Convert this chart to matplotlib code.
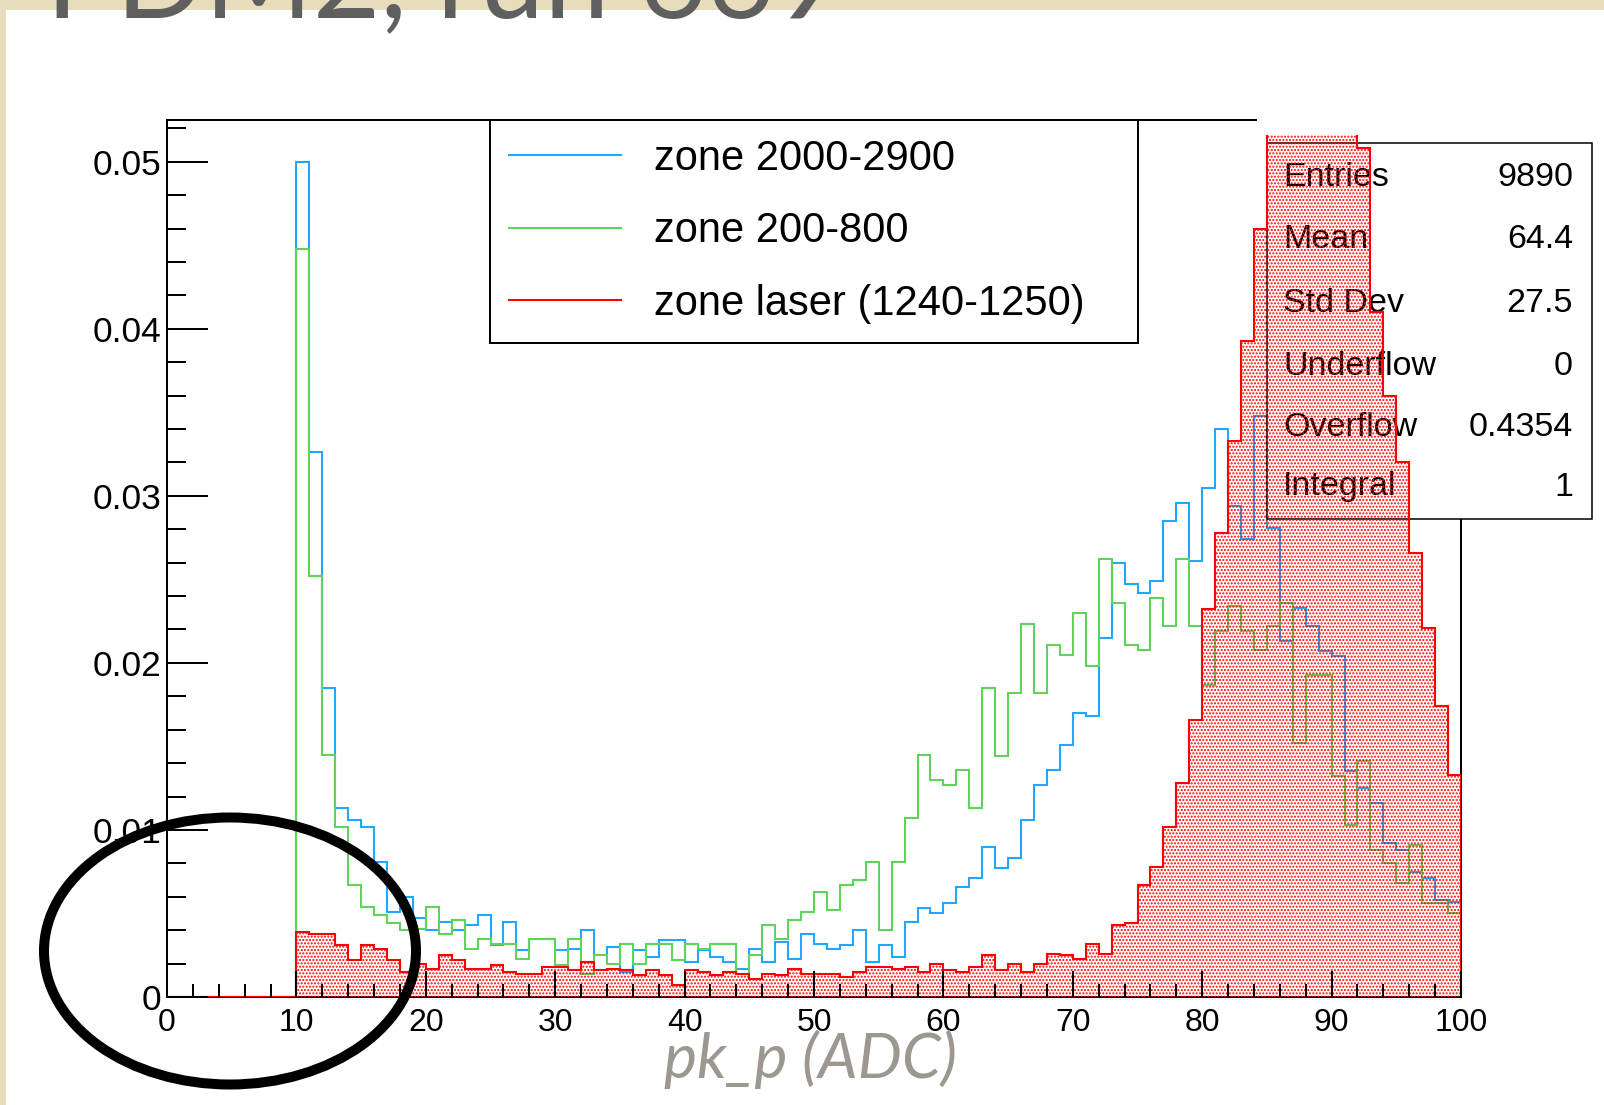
import numpy as np
import matplotlib
matplotlib.use("Agg")
import matplotlib.pyplot as plt
from matplotlib.patches import Rectangle, Ellipse
from matplotlib.ticker import MultipleLocator

W, H = 1604, 1105

# histogram bins: 100 bins of 1 ADC from 0 to 100
bin_edges = np.arange(0, 101, 1)

zone_2000_2900 = [0.0] * 10 + [
    0.0500, 0.0326, 0.0185, 0.0113, 0.0106, 0.0102, 0.0081, 0.0051, 0.0060, 0.0047,
    0.0040, 0.0045, 0.0040, 0.0043, 0.0049, 0.0031, 0.0045, 0.0028, 0.0035, 0.0035,
    0.0028, 0.0029, 0.0040, 0.0025, 0.0030, 0.0015, 0.0028, 0.0024, 0.0034, 0.0034,
    0.0021, 0.0028, 0.0024, 0.0021, 0.0017, 0.0029, 0.0021, 0.0033, 0.0023, 0.0038,
    0.0032, 0.0029, 0.0031, 0.0040, 0.0021, 0.0031, 0.0024, 0.0045, 0.0053, 0.0050,
    0.0056, 0.0066, 0.0071, 0.0090, 0.0077, 0.0083, 0.0106, 0.0127, 0.0136, 0.0151,
    0.0170, 0.0168, 0.0215, 0.0260, 0.0247, 0.0242, 0.0249, 0.0285, 0.0296, 0.0261,
    0.0305, 0.0340, 0.0294, 0.0274, 0.0348, 0.0281, 0.0213, 0.0233, 0.0222, 0.0207,
    0.0204, 0.0135, 0.0125, 0.0116, 0.0092, 0.0088, 0.0075, 0.0071, 0.0058, 0.0057,
]

zone_200_800 = [0.0] * 10 + [
    0.0448, 0.0252, 0.0145, 0.0102, 0.0067, 0.0054, 0.0049, 0.0044, 0.0040, 0.0041,
    0.0054, 0.0038, 0.0046, 0.0029, 0.0035, 0.0032, 0.0032, 0.0023, 0.0035, 0.0035,
    0.0019, 0.0035, 0.0014, 0.0025, 0.0020, 0.0032, 0.0020, 0.0032, 0.0032, 0.0022,
    0.0032, 0.0029, 0.0032, 0.0032, 0.0014, 0.0025, 0.0043, 0.0035, 0.0046, 0.0051,
    0.0063, 0.0052, 0.0067, 0.0070, 0.0081, 0.0040, 0.0081, 0.0107, 0.0145, 0.0130,
    0.0127, 0.0136, 0.0113, 0.0185, 0.0144, 0.0182, 0.0223, 0.0182, 0.0211, 0.0205,
    0.0230, 0.0198, 0.0262, 0.0236, 0.0211, 0.0208, 0.0239, 0.0222, 0.0262, 0.0222,
    0.0187, 0.0219, 0.0234, 0.0219, 0.0208, 0.0222, 0.0236, 0.0152, 0.0193, 0.0193,
    0.0132, 0.0103, 0.0141, 0.0088, 0.0080, 0.0068, 0.0091, 0.0056, 0.0056, 0.0050,
]

# bins 85-91 run off the top of the frame, their heights are estimates
zone_laser = [0.0] * 10 + [
    0.0039, 0.00375, 0.00375, 0.0031, 0.0022, 0.0031, 0.0029, 0.0022, 0.0015, 0.0020,
    0.0017, 0.0025, 0.0022, 0.0017, 0.0017, 0.0019, 0.0015, 0.0014, 0.0014, 0.0018,
    0.0018, 0.0016, 0.0021, 0.0016, 0.0017, 0.0016, 0.0013, 0.0016, 0.0013, 0.0007,
    0.0016, 0.0015, 0.0013, 0.0015, 0.0014, 0.0011, 0.0014, 0.0013, 0.0017, 0.0014,
    0.0014, 0.0014, 0.0012, 0.0015, 0.0018, 0.0018, 0.0017, 0.0018, 0.0015, 0.0020,
    0.0016, 0.0015, 0.0018, 0.0025, 0.0016, 0.0020, 0.0015, 0.0020, 0.0026, 0.0025,
    0.0023, 0.0032, 0.0026, 0.0043, 0.0044, 0.0067, 0.0078, 0.0102, 0.0128, 0.0166,
    0.0232, 0.0278, 0.0333, 0.0393, 0.0460, 0.0550, 0.0590, 0.0610, 0.0600, 0.0580,
    0.0560, 0.0530, 0.0508, 0.0410, 0.0360, 0.0320, 0.0266, 0.0221, 0.0174, 0.0133,
]

legend_labels = ["zone 2000-2900", "zone 200-800", "zone laser (1240-1250)"]
stat_names = ["Entries", "Mean", "Std Dev", "Underflow", "Overflow", "Integral"]
stat_values = ["9890", "64.4", "27.5", "0", "0.4354", "1"]

x_ticks = np.arange(0, 101, 10)
y_ticks = [0.0, 0.01, 0.02, 0.03, 0.04, 0.05]
y_tick_labels = ["0", "0.01", "0.02", "0.03", "0.04", "0.05"]

slide_title = "PDM2, run 669"
slide_xlabel = "pk_p (ADC)"

blue = "#1ea8ff"
green = "#5fd35a"
red = "#ff0000"
root_font = "Liberation Sans"


def fx(px):
    """pixel x -> figure fraction"""
    return px / W


def fy(py):
    """pixel y (from top) -> figure fraction"""
    return 1 - py / H


plt.rcParams["hatch.color"] = red
plt.rcParams["hatch.linewidth"] = 1.0

fig = plt.figure(figsize=(W / 100, H / 100), dpi=100, facecolor="#e7ddbd")

# white slide panel
fig.add_artist(Rectangle((fx(6), 0), 1 - fx(6), fy(10), transform=fig.transFigure,
                         facecolor="white", edgecolor="none", zorder=-1))

ax = fig.add_axes([fx(167), fy(997), fx(1461) - fx(167), fy(120) - fy(997)])
ax.set_facecolor("white")
ax.set_xlim(0, 100)
ax.set_ylim(0, 0.0525)

ax.stairs(zone_2000_2900, bin_edges, color=blue, lw=1.5, zorder=1.0, label=legend_labels[0])
ax.stairs(zone_200_800, bin_edges, color=green, lw=1.5, zorder=1.1, label=legend_labels[1])

# the laser histogram is cut a little below the frame top
clip_top = 0.0525 * (997 - 135) / (997 - 120)
clip_rect = Rectangle((0, 0), 100, clip_top, transform=ax.transData)
fill = ax.stairs(zone_laser, bin_edges, fill=True, facecolor="none", edgecolor=red,
                 linewidth=0, hatch=".....", zorder=3)
outline = ax.stairs(zone_laser, bin_edges, color=red, lw=1.5, zorder=3.1, label=legend_labels[2])
fill.set_clip_path(clip_rect)
outline.set_clip_path(clip_rect)

# white strip above the stats box (hides frame top there)
ax.add_patch(Rectangle((fx(1257), fy(143)), fx(1600) - fx(1257), fy(100) - fy(143),
                       transform=fig.transFigure, facecolor="white", edgecolor="none",
                       zorder=2.55, clip_on=False))

# stats box
ax.add_patch(Rectangle((fx(1267), fy(519)), fx(1592) - fx(1267), fy(143) - fy(519),
                       transform=fig.transFigure, facecolor="white", edgecolor="black",
                       lw=1.1, zorder=2.6, clip_on=False))
row_y = [177, 240, 303, 367, 428, 487]
for name, val, yy in zip(stat_names, stat_values, row_y):
    ax.text(fx(1283), fy(yy), name, transform=fig.transFigure, ha="left", va="center",
            fontsize=24.5, family=root_font, zorder=2.7, clip_on=False)
    ax.text(fx(1573), fy(yy), val, transform=fig.transFigure, ha="right", va="center",
            fontsize=24.5, family=root_font, zorder=2.7, clip_on=False)

# axes frame and ticks, ROOT style
for side in ["left", "bottom", "right", "top"]:
    ax.spines[side].set_linewidth(1.44)
ax.set_xticks(x_ticks)
ax.set_xticklabels([str(t) for t in x_ticks], family=root_font)
ax.set_yticks(y_ticks)
ax.set_yticklabels(y_tick_labels, family=root_font)
ax.xaxis.set_minor_locator(MultipleLocator(2))
ax.yaxis.set_minor_locator(MultipleLocator(0.002))
ax.tick_params(axis="x", which="major", direction="in", length=18.7, width=1.44,
               labelsize=23, pad=8, top=False)
ax.tick_params(axis="x", which="minor", direction="in", length=9.4, width=1.44, top=False)
ax.tick_params(axis="y", which="major", direction="in", length=29.5, width=1.44,
               labelsize=25.5, pad=4, right=False)
ax.tick_params(axis="y", which="minor", direction="in", length=13.7, width=1.44, right=False)
ax.xaxis.set_zorder(3.2)
ax.yaxis.set_zorder(3.2)

leg = ax.legend(loc="upper left", mode="expand",
                bbox_to_anchor=(fx(490), fy(339), fx(1138) - fx(490), fy(120) - fy(339)),
                bbox_transform=fig.transFigure, borderaxespad=0, borderpad=0.45,
                labelspacing=0.78, handlelength=2.69, handletextpad=0.79,
                fancybox=False, framealpha=1, edgecolor="black",
                prop={"family": root_font, "size": 30})
leg.get_frame().set_linewidth(1.44)
leg.set_zorder(5)

# slide decorations
fig.text(fx(46), fy(17), slide_title, family="Lato", fontsize=84, color="#5f5f5f",
         va="baseline", ha="left")
fig.text(fx(811), fy(1078), slide_xlabel, family="Lato", style="italic", fontsize=45,
         color="#9c978f", va="baseline", ha="center")
fig.add_artist(Ellipse((fx(230), fy(951)), 372 / W, 267 / H, transform=fig.transFigure,
                       fill=False, edgecolor="black", lw=7.2, zorder=10))

fig.savefig("out.png", dpi=100, facecolor=fig.get_facecolor())
